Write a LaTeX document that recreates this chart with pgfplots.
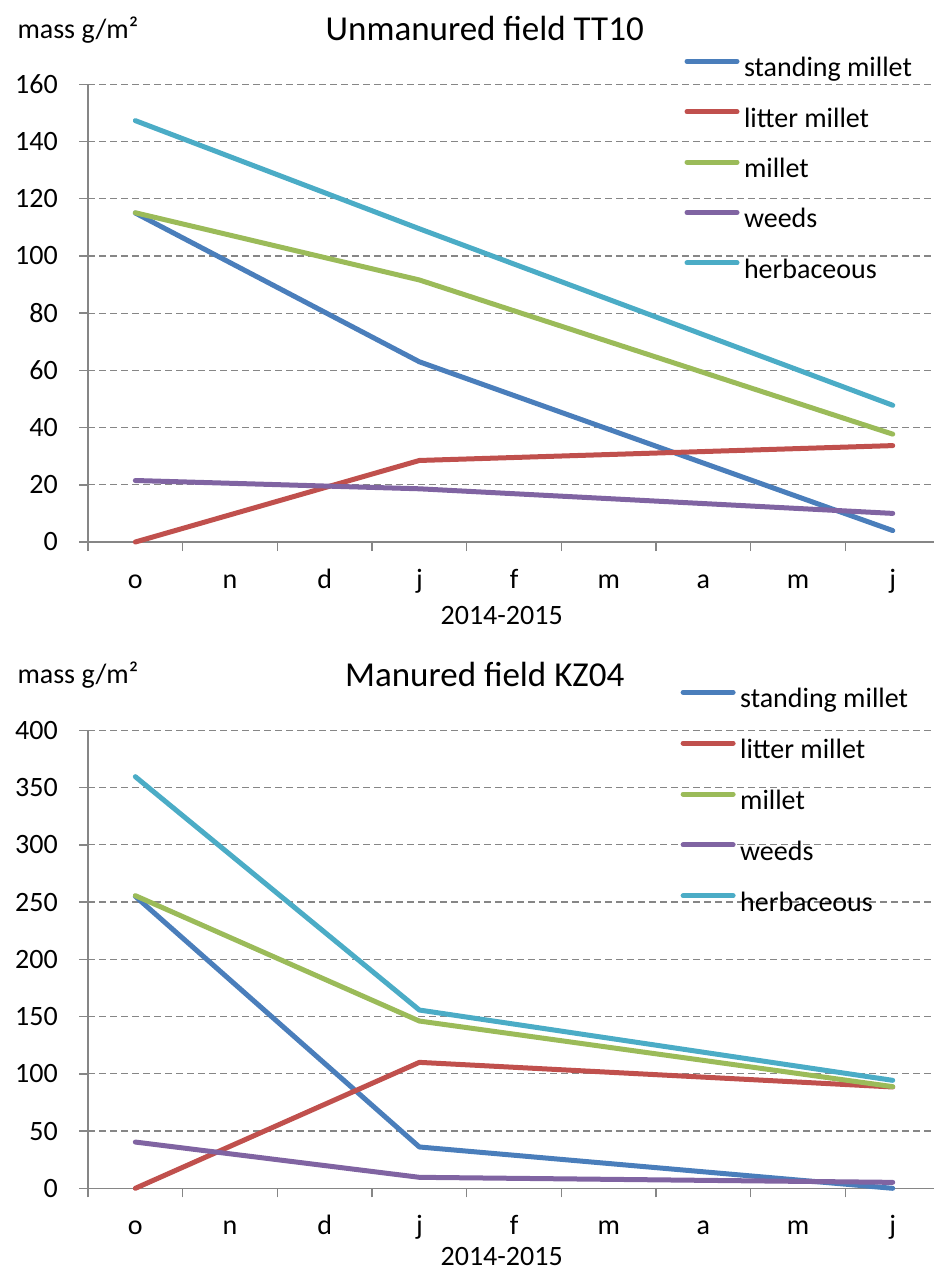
\documentclass[border=0pt]{standalone}
\usepackage{fontspec}
\setmainfont{Carlito}
\usepackage{pgfplots}
\pgfplotsset{compat=1.18}
\definecolor{sm}{HTML}{4A7EBB}
\definecolor{lm}{HTML}{C0504D}
\definecolor{mi}{HTML}{9BBB59}
\definecolor{we}{HTML}{8064A2}
\definecolor{he}{HTML}{4BACC6}
\definecolor{ax}{HTML}{868686}
\newcommand\fs{\fontsize{28}{33}\selectfont}
\pgfplotsset{
 mystyle/.style={
  scale only axis, width=846pt,
  xmin=-0.5, xmax=8.436, ymin=0,
  xtick={0,...,8}, xticklabels={o,n,d,j,f,m,a,m,j},
  minor xtick={-0.5,0.5,...,7.5},
  axis x line*=bottom, axis y line*=left,
  ymajorgrids,
  major grid style={ax, line width=1.3pt, dash pattern=on 7pt off 4pt},
  axis line style={ax, line width=1.5pt},
  tick align=outside,
  major tick length=9pt, minor tick length=9pt,
  tick style={ax, line width=1.5pt},
  major x tick style={draw=none},
  /pgf/number format/assume math mode=true,
  ticklabel style={font=\fs},
  yticklabel style={anchor=east, inner sep=0pt, xshift=-21pt},
  xticklabel style={anchor=base, inner sep=0pt, yshift=-37pt},
  clip=false,
  legend style={draw=none, fill=none, font=\fs, anchor=north west, inner sep=0pt, outer sep=0pt,
    nodes={inner sep=0pt, text height=20pt, text depth=6pt},
    /tikz/every odd column/.append style={column sep=4.5pt}},
  legend cell align=left,
  legend image code/.code={\draw[#1, line width=5pt, line cap=round] (0pt,8.4pt) -- (50pt,8.4pt);},
  every axis plot/.append style={line width=5pt, line cap=round, line join=round, mark=none},
  title style={font=\fontsize{35}{40}\selectfont, anchor=base},
  xlabel style={font=\fs, anchor=base},
 }
}
\begin{document}
\begin{tikzpicture}
\path[use as bounding box] (0,0) rectangle (934pt,-1273pt);
\begin{axis}[mystyle, at={(88pt,-542pt)}, anchor=south west, height=457.7pt,
  ymax=160, ytick={0,20,...,160},
  title={Unmanured field TT10}, title style={at={(axis description cs:0.469,1.0815)}},
  ylabel={mass g/m²}, every axis y label/.style={font=\fs, anchor=base west, at={(axis description cs:-0.0875,1.101)}},
  xlabel={2014-2015}, xlabel style={at={(axis description cs:0.489,-0.181)}},
  legend style={at={(axis description cs:0.7051,1.0603)}, row sep=24.4pt}]
\addplot[sm] coordinates {(0,115) (3,63) (8,4)};
\addlegendentry{standing millet}
\addplot[lm] coordinates {(0,0) (3,28.5) (8,33.7)};
\addlegendentry{litter millet}
\addplot[mi] coordinates {(0,115.1) (3,91.6) (8,37.7)};
\addlegendentry{millet}
\addplot[we] coordinates {(0,21.5) (3,18.6) (8,10)};
\addlegendentry{weeds}
\addplot[he] coordinates {(0,147.3) (3,109.5) (8,47.8)};
\addlegendentry{herbaceous}
\end{axis}
\begin{axis}[mystyle, at={(88pt,-1188.3pt)}, anchor=south west, height=458pt,
  ymax=400, ytick={0,50,...,400},
  title={Manured field KZ04}, title style={at={(axis description cs:0.469,1.0815)}},
  ylabel={mass g/m²}, every axis y label/.style={font=\fs, anchor=base west, at={(axis description cs:-0.0875,1.103)}},
  xlabel={2014-2015}, xlabel style={at={(axis description cs:0.489,-0.1695)}},
  legend style={at={(axis description cs:0.7005,1.093)}, row sep=24.85pt}]
\addplot[sm] coordinates {(0,255) (3,36.1) (8,0)};
\addlegendentry{standing millet}
\addplot[lm] coordinates {(0,0) (3,110) (8,88.5)};
\addlegendentry{litter millet}
\addplot[mi] coordinates {(0,255.6) (3,146.1) (8,88.8)};
\addlegendentry{millet}
\addplot[we] coordinates {(0,40.4) (3,9.6) (8,5.2)};
\addlegendentry{weeds}
\addplot[he] coordinates {(0,359.5) (3,155.7) (8,94.3)};
\addlegendentry{herbaceous}
\end{axis}
\end{tikzpicture}
\end{document}
